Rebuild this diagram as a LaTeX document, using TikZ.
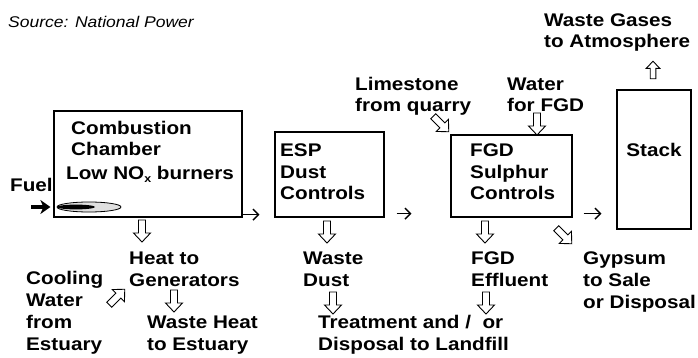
\documentclass[tikz,border=0pt]{standalone}
\usepackage{fontspec}
\setmainfont{Liberation Sans}[FakeStretch=1.13]
\usetikzlibrary{positioning,arrows.meta}
\begin{document}
\begin{tikzpicture}[x=1pt, y=-1pt]
\tikzset{
  unit/.style={rectangle, draw=black, line width=1.2pt, inner sep=0pt},
  lbl/.style={anchor=base west, inner sep=0pt, align=left, font=\fontsize{18.3}{21.7}\selectfont\bfseries},
  hollowarrow/.pic={
    \draw[line width=0.9pt, fill=white, line join=miter]
      (-11,-3.5) -- (2,-3.5) -- (2,-8.5) -- (11,0) -- (2,8.5) -- (2,3.5) -- (-11,3.5) -- cycle;
  },
  flow/.style={-{Straight Barb[length=5.5pt,width=11pt]}, line width=1.4pt},
  fuelflow/.style={-{Stealth[length=10pt,width=14pt,inset=3pt]}, line width=3.6pt}
}
\useasboundingbox (0,0) rectangle (698,358);
\node[anchor=base west, inner sep=0pt, font=\fontsize{15.5}{18}\selectfont\itshape] (source) at (8,28) {Source: National Power};
\node[unit, minimum width=188pt, minimum height=106pt] (comb) at (148,164) {};
\node[unit, minimum width=109pt, minimum height=85pt] (esp) at (329.5,174.5) {};
\node[unit, minimum width=121pt, minimum height=82pt] (fgd) at (511.5,176) {};
\node[unit, minimum width=74pt, minimum height=139pt] (stack) at (654,159.5) {};
\node[lbl] (comblbl) at (71,156) {Combustion\\Chamber};
\node[lbl] (burners) at (66,179) {Low NO\raisebox{-0.4ex}{\fontsize{11}{11}\selectfont x} burners};
\node[lbl] (esplbl) at (280,200) {ESP\\Dust\\Controls};
\node[lbl] (fgdlbl) at (470,200) {FGD\\Sulphur\\Controls};
\node[lbl, anchor=base] (stacklbl) at (654,157) {Stack};
\node[lbl] (fuel) at (10,192) {Fuel};
\node[lbl] (gases) at (544,48) {Waste Gases\\to Atmosphere};
\node[lbl] (limestone) at (355,112) {Limestone\\from quarry};
\node[lbl] (water) at (507,112) {Water\\for FGD};
\node[lbl] (heat) at (129,286) {Heat to\\Generators};
\node[lbl] (cooling) at (26,350) {Cooling\\Water\\from\\Estuary};
\node[lbl] (wasteheat) at (147,350) {Waste Heat\\to Estuary};
\node[lbl] (dust) at (303,286) {Waste\\Dust};
\node[lbl] (effluent) at (471,286) {FGD\\Effluent};
\node[lbl] (gypsum) at (583,308) {Gypsum\\to Sale\\or Disposal};
\node[lbl] (landfill) at (318,350) {Treatment and /\ \ or\\Disposal to Landfill};
\draw[line width=0.8pt, fill=black!12] (89,207) ellipse (32 and 5);
\fill[black] (76,207) ellipse (19 and 2.4);
\coordinate (fuelin) at (31,207);
\draw[fuelflow, shorten >=3pt] (fuelin) -- (fuelin -| comb.west);
\draw[flow, shorten >=15pt] ([yshift=3pt]comb.south east) -- ([yshift=3pt]comb.south east -| esp.west);
\draw[flow, shorten <=12pt, shorten >=39pt] ([yshift=4pt]esp.south east) -- ([yshift=4pt]esp.south east -| fgd.west);
\draw[flow, shorten <=11pt, shorten >=15pt] ([yshift=4pt]fgd.south east) -- ([yshift=4pt]fgd.south east -| stack.west);
\pic[rotate=-90] (toheat) at (142,231) {hollowarrow};
\pic[rotate=-90] (towasteheat) at (174,301) {hollowarrow};
\pic[rotate=45] (fromcooling) at (117,297) {hollowarrow};
\pic[rotate=-90] (todust) at (327,232) {hollowarrow};
\pic[rotate=-90] (tolandfill1) at (333,303) {hollowarrow};
\pic[rotate=-90] (toeffluent) at (485,232) {hollowarrow};
\pic[rotate=-90] (tolandfill2) at (486,303) {hollowarrow};
\pic[rotate=-45] (fromlime) at (441,124) {hollowarrow};
\pic[rotate=-90] (fromwater) at (537,124) {hollowarrow};
\pic[rotate=-45] (togypsum) at (564,236) {hollowarrow};
\pic[rotate=90, scale=0.8] (togases) at (653,70) {hollowarrow};
\end{tikzpicture}
\end{document}
